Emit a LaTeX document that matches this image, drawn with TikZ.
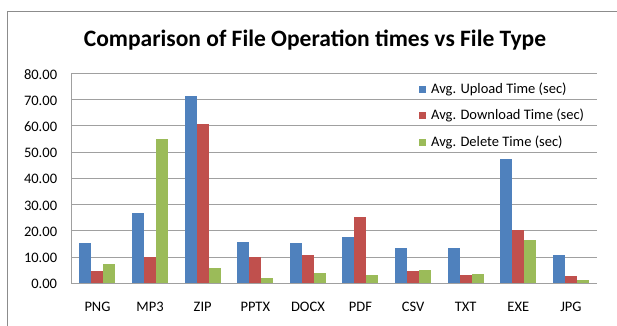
\documentclass[tikz,border=0pt]{standalone}
\usepackage{fontspec}
\setmainfont{Carlito}
\definecolor{upc}{HTML}{4F81BD}
\definecolor{downc}{HTML}{C0504D}
\definecolor{delc}{HTML}{9BBB59}
\definecolor{gridc}{HTML}{A0A0A0}
\definecolor{framec}{HTML}{8C8C8C}
\tikzset{
  chartframe/.style={draw=framec, line width=1pt},
  gridline/.style={draw=gridc, line width=0.9pt},
  axislabel/.style={font=\fontsize{14.5}{16}\selectfont, inner sep=0pt},
  legendtext/.style={font=\fontsize{14.5}{16}\selectfont, anchor=west, inner sep=0pt},
  legendkey/.style={minimum size=7pt, inner sep=0pt, draw=none},
  charttitle/.style={font=\fontsize{23.5}{27}\selectfont\bfseries, inner sep=0pt},
}
\begin{document}
\begin{tikzpicture}[x=1pt,y=-1pt]
\useasboundingbox (0,0) rectangle (617,325);
\fill[white] (0,0) rectangle (617,325);
% outer chart frame (runs off the right and bottom edges)
\draw[chartframe] (7,340) |- (640,11);
% title
\node[charttitle] (title) at (315,40) {Comparison of File Operation times vs File Type};
% horizontal gridlines and value labels
\foreach \v [count=\k from 0] in {0.00,10.00,20.00,30.00,40.00,50.00,60.00,70.00,80.00} {
  \pgfmathsetmacro\yy{283.3-26.25*\k}
  \draw[gridline] (71,\yy) -- (597,\yy);
  \node[axislabel, anchor=east] (yl\k) at (57.3,{\yy+0.8}) {\v};
}
% left axis
\draw[gridline] (71,73.3) -- (71,283.3);
% bars: label / upload / download / delete
\foreach \lab/\u/\d/\e [count=\i from 0] in {
  PNG/15.35/4.7/7.35, MP3/26.9/10.0/54.9, ZIP/71.3/60.6/5.7,
  PPTX/15.6/10.0/2.0, DOCX/15.2/10.7/3.9, PDF/17.6/25.3/3.3,
  CSV/13.3/4.6/5.2, TXT/13.3/3.3/3.4, EXE/47.2/20.4/16.6, JPG/10.9/2.8/1.3} {
  \pgfmathsetmacro\cx{71+52.6*\i}
  \fill[upc] ({\cx+8.3},283.3) rectangle ++(12,{-2.625*\u});
  \fill[downc] ({\cx+20.3},283.3) rectangle ++(12,{-2.625*\d});
  \fill[delc] ({\cx+32.3},283.3) rectangle ++(12,{-2.625*\e});
  \node[axislabel] (xl\i) at ({\cx+26.5},306.5) {\lab};
}
\draw[gridline] (71,283.3) -- (597,283.3);
% legend
\node[legendkey, fill=upc] (k1) at (422.5,89) {};
\node[legendtext] (t1) at (431,89) {Avg. Upload Time (sec)};
\node[legendkey, fill=downc] (k2) at (422.5,115.7) {};
\node[legendtext] (t2) at (431,115.7) {Avg. Download Time (sec)};
\node[legendkey, fill=delc] (k3) at (422.5,142.3) {};
\node[legendtext] (t3) at (431,142.3) {Avg. Delete Time (sec)};
\end{tikzpicture}
\end{document}
